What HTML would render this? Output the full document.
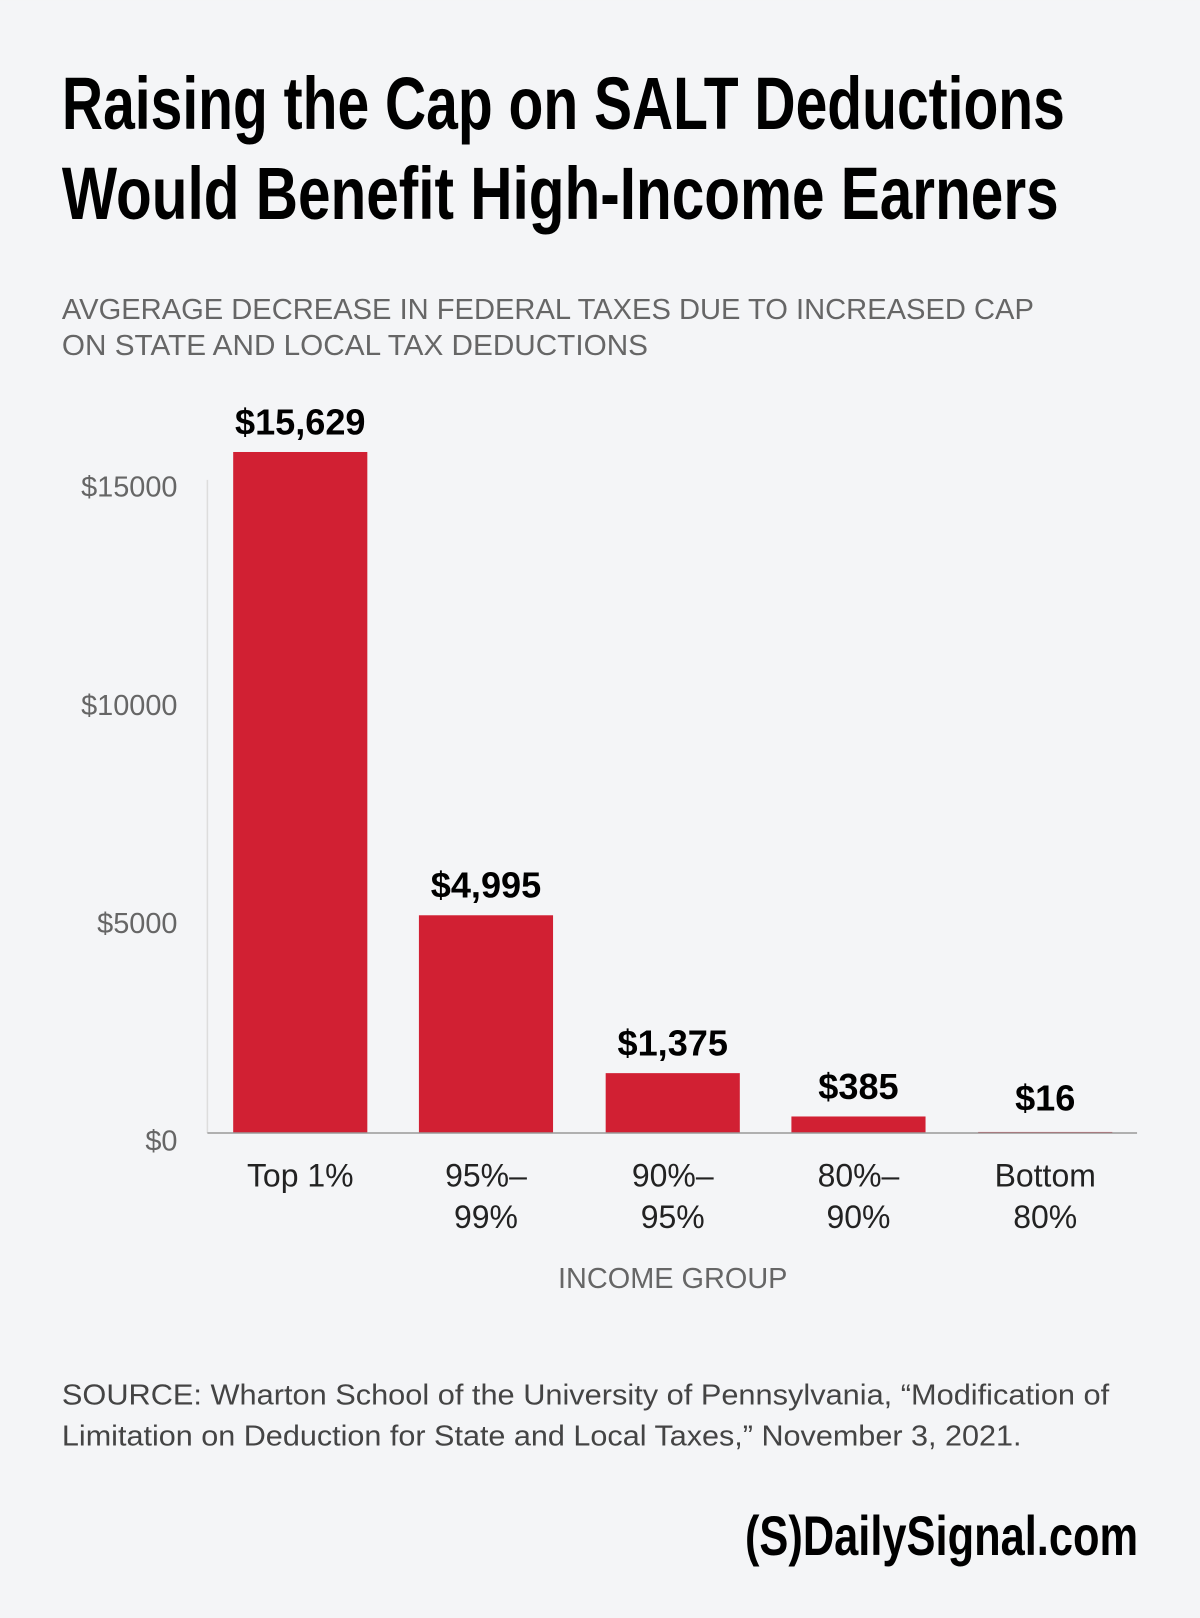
<!DOCTYPE html>
<html><head><meta charset="utf-8"><style>
html,body{margin:0;padding:0;background:#f4f5f7;}
svg{display:block;}
text{font-family:"Liberation Sans",sans-serif;}
</style></head><body>
<svg width="1200" height="1618" viewBox="0 0 1163 1568" xmlns="http://www.w3.org/2000/svg">
<rect width="1163" height="1568" fill="#f4f5f7"/>
<g fill="#000" font-size="72" font-weight="bold">
<text x="60" y="125" textLength="972" lengthAdjust="spacingAndGlyphs">Raising the Cap on SALT Deductions</text>
<text x="60" y="212" textLength="966" lengthAdjust="spacingAndGlyphs">Would Benefit High-Income Earners</text>
</g>
<g fill="#666" font-size="28">
<text x="60" y="309" textLength="942" lengthAdjust="spacingAndGlyphs">AVGERAGE DECREASE IN FEDERAL TAXES DUE TO INCREASED CAP</text>
<text x="60" y="344" textLength="568" lengthAdjust="spacingAndGlyphs">ON STATE AND LOCAL TAX DEDUCTIONS</text>
</g>
<g fill="#666" font-size="28" text-anchor="end">
<text x="172" y="481">$15000</text>
<text x="172" y="693">$10000</text>
<text x="172" y="904">$5000</text>
<text x="172" y="1115">$0</text>
</g>
<line x1="201" y1="465" x2="201" y2="1098" stroke="#ddd" stroke-width="1.5"/>
<g fill="#d12033">
<rect x="226" y="438" width="130" height="660"/>
<rect x="406" y="887" width="130" height="211"/>
<rect x="587" y="1040" width="130" height="58"/>
<rect x="767" y="1082" width="130" height="16"/>
<rect x="948" y="1097" width="130" height="1"/>
</g>
<line x1="201" y1="1098" x2="1102" y2="1098" stroke="#999" stroke-width="1.5"/>
<g fill="#000" font-size="35" font-weight="bold" text-anchor="middle">
<text x="291" y="421">$15,629</text>
<text x="471" y="870">$4,995</text>
<text x="652" y="1023">$1,375</text>
<text x="832" y="1065">$385</text>
<text x="1013" y="1076">$16</text>
</g>
<g fill="#222" font-size="31" text-anchor="middle">
<text x="291" y="1150">Top 1%</text>
<text x="471" y="1150">95%–</text><text x="471" y="1190">99%</text>
<text x="652" y="1150">90%–</text><text x="652" y="1190">95%</text>
<text x="832" y="1150">80%–</text><text x="832" y="1190">90%</text>
<text x="1013" y="1150">Bottom</text><text x="1013" y="1190">80%</text>
</g>
<text x="652" y="1248" fill="#666" font-size="28" text-anchor="middle">INCOME GROUP</text>
<g fill="#444" font-size="28">
<text x="60" y="1361" textLength="1015" lengthAdjust="spacingAndGlyphs">SOURCE: Wharton School of the University of Pennsylvania, “Modification of</text>
<text x="60" y="1401" textLength="930" lengthAdjust="spacingAndGlyphs">Limitation on Deduction for State and Local Taxes,” November 3, 2021.</text>
</g>
<text x="722" y="1507" fill="#000" font-size="54" font-weight="bold" textLength="381" lengthAdjust="spacingAndGlyphs">(S)DailySignal.com</text>
</svg>
</body></html>
